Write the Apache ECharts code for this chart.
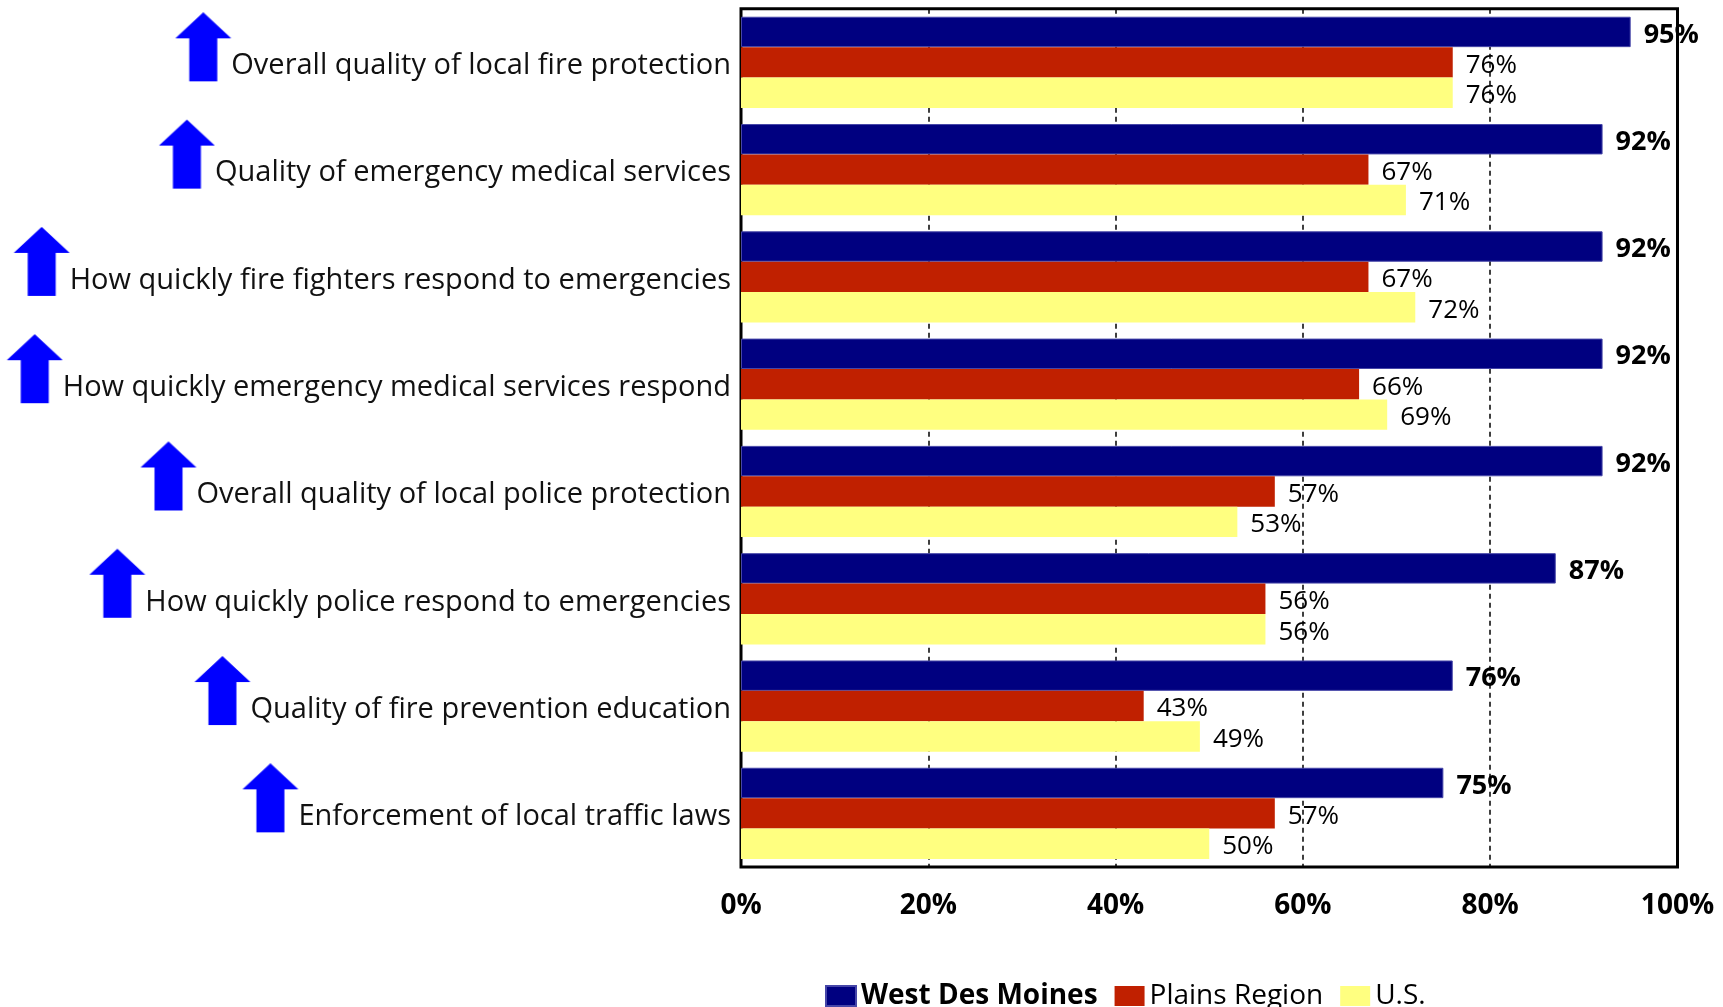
<!DOCTYPE html>
<html>
<head>
<meta charset="utf-8">
<title>Public safety services ratings</title>
<script src="https://cdn.jsdelivr.net/npm/echarts@6/dist/echarts.min.js"></script>
<style>
  html, body { margin: 0; padding: 0; background: #fff; }
  #chart { width: 1723px; height: 1007px; }
</style>
</head>
<body>
<div id="chart"></div>
<script>
// Services rated, top to bottom
const categories = [
  'Overall quality of local fire protection',
  'Quality of emergency medical services',
  'How quickly fire fighters respond to emergencies',
  'How quickly emergency medical services respond',
  'Overall quality of local police protection',
  'How quickly police respond to emergencies',
  'Quality of fire prevention education',
  'Enforcement of local traffic laws'
];

// Comparison with the benchmark for each service
const trend = ['up', 'up', 'up', 'up', 'up', 'up', 'up', 'up'];

const seriesNames = ['West Des Moines', 'Plains Region', 'U.S.'];

// Percent rating "excellent" or "good"
const westDesMoines = [95, 92, 92, 92, 92, 87, 76, 75];
const plainsRegion  = [76, 67, 67, 66, 57, 56, 43, 57];
const us            = [76, 71, 72, 69, 53, 56, 49, 50];

const xTicks = [0, 20, 40, 60, 80, 100];

const FONT = '"Open Sans", "Noto Sans", sans-serif';

// Blue up-arrow icon used in front of each service name.
// The arrow sits in the upper part of the box so the text stays centred on the row.
function makeArrow() {
  const c = document.createElement('canvas');
  c.width = 54; c.height = 100;
  const g = c.getContext('2d');
  g.fillStyle = '#0000FF';
  g.beginPath();
  g.moveTo(27, 0);
  g.lineTo(54, 26);
  g.lineTo(40.5, 26);
  g.lineTo(40.5, 69);
  g.lineTo(13.5, 69);
  g.lineTo(13.5, 26);
  g.lineTo(0, 26);
  g.closePath();
  g.fill();
  return c;
}
const arrowUp = makeArrow();

const chart = echarts.init(document.getElementById('chart'), null, { renderer: 'canvas' });

const colors = ['#000080', '#C02000', '#FFFF80'];

function barSeries(name, data, idx) {
  const bold = idx === 0;
  return {
    name: name,
    type: 'bar',
    data: data,
    barGap: '0%',
    barCategoryGap: '15%',
    itemStyle: {
      color: colors[idx],
      borderColor: idx === 0 ? '#4646a8' : 'transparent',
      borderWidth: idx === 0 ? 1 : 0
    },
    label: {
      show: true,
      position: 'right',
      distance: 13,
      offset: [0, 3],
      formatter: '{c}%',
      color: '#000',
      fontFamily: FONT,
      fontSize: bold ? 27 : 26,
      fontWeight: bold ? 'bold' : 'normal'
    },
    emphasis: { disabled: true },
    animation: false
  };
}

chart.setOption({
  backgroundColor: '#fff',
  animation: false,
  grid: {
    left: 741,
    right: 45.5,
    top: 8.7,
    bottom: 140,
    show: true,
    borderColor: '#000',
    borderWidth: 3,
    backgroundColor: 'transparent'
  },
  legend: {
    data: seriesNames,
    left: 825,
    top: 982,
    padding: 0,
    icon: 'rect',
    itemWidth: 30,
    itemHeight: 20,
    itemGap: 17,
    selectedMode: false,
    formatter: function (name) {
      return name === seriesNames[0] ? '{b|' + name + '}' : name;
    },
    textStyle: {
      fontFamily: FONT,
      fontSize: 28,
      color: '#000',
      rich: {
        b: { fontFamily: FONT, fontSize: 28, fontWeight: 'bold', color: '#000' }
      }
    }
  },
  xAxis: {
    type: 'value',
    min: xTicks[0],
    max: xTicks[xTicks.length - 1],
    interval: xTicks[1] - xTicks[0],
    axisLine: { show: false },
    axisTick: { show: false },
    axisLabel: {
      formatter: '{value}%',
      margin: 25,
      color: '#000',
      fontFamily: FONT,
      fontSize: 28,
      fontWeight: 'bold'
    },
    splitLine: {
      show: true,
      lineStyle: { color: '#000', width: 1.5, type: [5, 4] }
    }
  },
  yAxis: {
    type: 'category',
    data: categories,
    inverse: true,
    axisLine: { show: false },
    axisTick: { show: false },
    splitLine: { show: false },
    axisLabel: {
      interval: 0,
      margin: 10,
      formatter: function (value, index) {
        return '{' + trend[index] + '|}{name|' + value + '}';
      },
      rich: {
        up: {
          width: 54,
          height: 100,
          padding: [0, 2, 0, 0],
          backgroundColor: { image: arrowUp }
        },
        name: {
          fontFamily: FONT,
          fontSize: 29,
          color: '#111',
          padding: [7, 0, 0, 0],
          verticalAlign: 'middle'
        }
      }
    }
  },
  series: [
    barSeries(seriesNames[0], westDesMoines, 0),
    barSeries(seriesNames[1], plainsRegion, 1),
    barSeries(seriesNames[2], us, 2)
  ]
});
</script>
</body>
</html>
